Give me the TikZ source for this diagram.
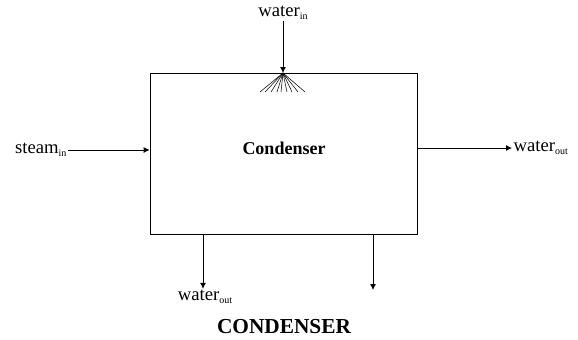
\documentclass[tikz,border=0pt]{standalone}
\usepackage{fontspec}
\setmainfont{Liberation Serif}
\usetikzlibrary{arrows.meta,positioning,calc}

\newcommand{\lowsub}[1]{\raisebox{-0.3ex}{\fontsize{7.5}{9}\selectfont #1}}

\begin{document}
\begin{tikzpicture}[
        x=0.75pt, y=-0.75pt,
        unit/.style={rectangle, draw, line width=0.6pt, minimum width=200.25pt, minimum height=120.75pt, inner sep=0pt},
        label/.style={font=\fontsize{14}{16}\selectfont, inner sep=1pt},
        line/.style={draw, line width=0.6pt, -{Latex[length=4.5pt,width=4.5pt]}},
        spray/.style={draw, line width=0.4pt}
    ]
    \useasboundingbox (0,0) rectangle (578,339);

    % Condenser block
    \node [unit] (cond) at (283.5,153.5) {};
    \node [font=\bfseries\fontsize{13.5}{16}\selectfont] (name) at (284,148) {Condenser};

    % Streams in
    \node [label] (win) at (283,13) {water\lowsub{in}};
    \node [label, anchor=east] (steam) at (68,150) {steam\lowsub{in}};
    \coordinate (top) at (283,73);
    \path [line] (win) -- (top);
    \path [line] (steam) -- (steam -| cond.west);

    % Spray nozzle
    \foreach \dx in {-23,-18,-12,-6,-2,4,9,15,22}
        \path [spray] (top) -- ++(\dx,19);

    % Streams out
    \node [label, anchor=west] (wout) at (512,148) {water\lowsub{out}};
    \path [line] (cond.east |- wout) -- (wout);
    \node [label] (wbot) at (205,297) {water\lowsub{out}};
    \coordinate (b1) at (203,234);
    \coordinate (b2) at (373,234);
    \coordinate (e2) at (373,290);
    \path [line] (b1) -- (b1 |- wbot.north);
    \path [line] (b2) -- (e2);

    % Title
    \node [font=\bfseries\fontsize{16}{19}\selectfont] (title) at (284,327) {CONDENSER};
\end{tikzpicture}
\end{document}
